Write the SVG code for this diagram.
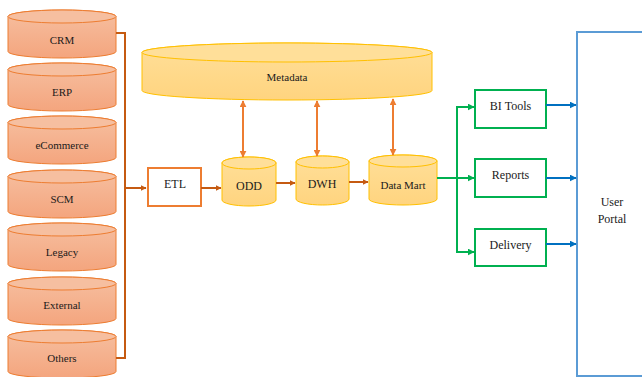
<svg xmlns="http://www.w3.org/2000/svg" width="642" height="377" viewBox="0 0 642 377">
  <defs>
    <linearGradient id="srcFill" x1="0" y1="0" x2="0" y2="1">
      <stop offset="0" stop-color="#F6BFA0"/>
      <stop offset="1" stop-color="#F4A57E"/>
    </linearGradient>
    <linearGradient id="storeFill" x1="0" y1="0" x2="0" y2="1">
      <stop offset="0" stop-color="#FFDF99"/>
      <stop offset="1" stop-color="#FFD47F"/>
    </linearGradient>
    <!-- source database cylinder, 108 x 48 -->
    <g id="srcCyl">
      <path d="M0,6.5 A54,6.5 0 0 1 108,6.5 V41.5 A54,6.5 0 0 1 0,41.5 Z" fill="url(#srcFill)" stroke="#ED7D31" stroke-width="1"/>
      <ellipse cx="54" cy="6.5" rx="54" ry="6.5" fill="#F6BFA0" stroke="#ED7D31" stroke-width="1"/>
    </g>
    <marker id="arrOrange" viewBox="0 0 10 10" refX="9" refY="5" markerWidth="6" markerHeight="6" orient="auto-start-reverse" markerUnits="userSpaceOnUse">
      <path d="M0,0 L10,5 L0,10 Z" fill="#C55A11"/>
    </marker>
    <marker id="arrLight" viewBox="0 0 10 10" refX="9" refY="5" markerWidth="7" markerHeight="7" orient="auto-start-reverse" markerUnits="userSpaceOnUse">
      <path d="M0,0 L10,5 L0,10 Z" fill="#ED7D31"/>
    </marker>
    <marker id="arrGreen" viewBox="0 0 10 10" refX="9" refY="5" markerWidth="7" markerHeight="7" orient="auto" markerUnits="userSpaceOnUse">
      <path d="M0,0 L10,5 L0,10 Z" fill="#00B050"/>
    </marker>
    <marker id="arrBlue" viewBox="0 0 10 10" refX="9" refY="5" markerWidth="7" markerHeight="7" orient="auto" markerUnits="userSpaceOnUse">
      <path d="M0,0 L10,5 L0,10 Z" fill="#0070C0"/>
    </marker>
  </defs>
  <style>
    text { fill: #1a1a1a; text-anchor: middle; dominant-baseline: central; }
    .src { font-size: 11px; }
    .lbl { font-size: 12px; }
    .small { font-size: 11px; }
    .store { fill: url(#storeFill); stroke: #FFC000; stroke-width: 1; }
    .storeTop { fill: #FFDF99; stroke: #FFC000; stroke-width: 1; }
    .flow { fill: none; stroke: #C55A11; stroke-width: 2; }
    .meta { fill: none; stroke: #ED7D31; stroke-width: 2; }
    .green { fill: none; stroke: #00B050; stroke-width: 2; }
    .blue { fill: none; stroke: #0070C0; stroke-width: 2; }
    .gbox { fill: #fff; stroke: #00B050; stroke-width: 2; }
  </style>

  <rect width="642" height="377" fill="#fff"/>

  <g font-family="Liberation Serif, Times New Roman, serif">
  <!-- source systems -->
  <g id="crm"><use href="#srcCyl" x="8" y="10"/><text class="src" x="62" y="40">CRM</text></g>
  <g id="erp"><use href="#srcCyl" x="8" y="63"/><text class="src" x="62" y="92">ERP</text></g>
  <g id="ecommerce"><use href="#srcCyl" x="8" y="116"/><text class="src" x="62" y="145">eCommerce</text></g>
  <g id="scm"><use href="#srcCyl" x="8" y="170"/><text class="src" x="62" y="199">SCM</text></g>
  <g id="legacy"><use href="#srcCyl" x="8" y="223"/><text class="src" x="62" y="252">Legacy</text></g>
  <g id="external"><use href="#srcCyl" x="8" y="277"/><text class="src" x="62" y="305">External</text></g>
  <g id="others"><use href="#srcCyl" x="8" y="330"/><text class="src" x="62" y="358">Others</text></g>

  <!-- metadata repository -->
  <g id="metadata">
    <path class="store" d="M142,52.5 A145,9.5 0 0 1 432,52.5 V90.5 A145,9.5 0 0 1 142,90.5 Z"/>
    <ellipse class="storeTop" cx="287" cy="52.5" rx="145" ry="9.5"/>
    <text class="small" x="287" y="77">Metadata</text>
  </g>

  <!-- ETL -->
  <g id="etl">
    <rect x="148" y="168" width="53" height="38" fill="#fff" stroke="#ED7D31" stroke-width="2"/>
    <text class="lbl" x="175" y="184">ETL</text>
  </g>

  <!-- data stores -->
  <g id="odd">
    <path class="store" d="M222,163 A27,6 0 0 1 276,163 V200 A27,6 0 0 1 222,200 Z"/>
    <ellipse class="storeTop" cx="249" cy="163" rx="27" ry="6"/>
    <text class="lbl" x="249" y="186">ODD</text>
  </g>
  <g id="dwh">
    <path class="store" d="M296,162 A26.5,6 0 0 1 349,162 V199 A26.5,6 0 0 1 296,199 Z"/>
    <ellipse class="storeTop" cx="322.5" cy="162" rx="26.5" ry="6"/>
    <text class="lbl" x="322" y="184">DWH</text>
  </g>
  <g id="datamart">
    <path class="store" d="M369,161 A34,6 0 0 1 437,161 V199 A34,6 0 0 1 369,199 Z"/>
    <ellipse class="storeTop" cx="403" cy="161" rx="34" ry="6"/>
    <text class="small" x="403" y="185">Data Mart</text>
  </g>

  <!-- delivery channels -->
  <g id="bitools">
    <rect class="gbox" x="475" y="90" width="71" height="38"/>
    <text class="lbl" x="510.5" y="106">BI Tools</text>
  </g>
  <g id="reports">
    <rect class="gbox" x="475" y="159" width="71" height="38"/>
    <text class="lbl" x="510.5" y="175">Reports</text>
  </g>
  <g id="delivery">
    <rect class="gbox" x="475" y="229" width="71" height="37"/>
    <text class="lbl" x="510.5" y="245">Delivery</text>
  </g>

  <!-- user portal -->
  <g id="userportal">
    <rect x="577" y="32" width="80" height="344" fill="#fff" stroke="#5B9BD5" stroke-width="2"/>
    <text class="lbl" x="612" y="202">User</text>
    <text class="lbl" x="612" y="219">Portal</text>
  </g>
  </g>

  <!-- connectors -->
  <g id="connectors">
    <path class="flow" d="M116,33 H125 V358 H116"/>
    <path class="flow" d="M125,188 H146" marker-end="url(#arrOrange)"/>
    <path class="flow" d="M201,188 H221" marker-end="url(#arrOrange)"/>
    <path class="flow" d="M276,183 H295" marker-end="url(#arrOrange)"/>
    <path class="flow" d="M349,182 H368" marker-end="url(#arrOrange)"/>

    <path class="meta" d="M243,101 V157" marker-start="url(#arrLight)" marker-end="url(#arrLight)"/>
    <path class="meta" d="M317,101 V156" marker-start="url(#arrLight)" marker-end="url(#arrLight)"/>
    <path class="meta" d="M393,99 V155" marker-start="url(#arrLight)" marker-end="url(#arrLight)"/>

    <path class="green" d="M437,178 H457"/>
    <path class="green" d="M474,107 H457 V252 H474" marker-end="url(#arrGreen)"/>
    <path class="green" d="M457,107 H474" marker-end="url(#arrGreen)"/>
    <path class="green" d="M457,178 H474" marker-end="url(#arrGreen)"/>

    <path class="blue" d="M546,105 H576" marker-end="url(#arrBlue)"/>
    <path class="blue" d="M546,178 H576" marker-end="url(#arrBlue)"/>
    <path class="blue" d="M546,244 H576" marker-end="url(#arrBlue)"/>
  </g>
</svg>
